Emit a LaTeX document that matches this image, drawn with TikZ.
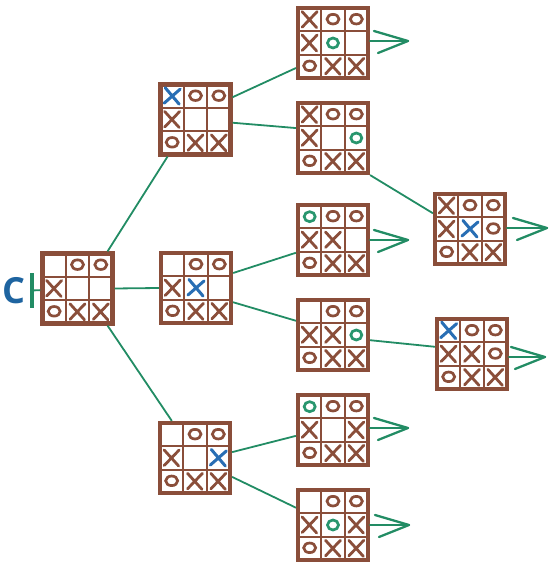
\documentclass[tikz,border=0pt]{standalone}
\usepackage{fontspec}
\newfontfamily\cfont{Open Sans}
\usetikzlibrary{arrows.meta,calc}
\definecolor{brn}{RGB}{138,78,58}
\definecolor{grn}{RGB}{34,140,100}
\definecolor{gro}{RGB}{40,150,110}
\definecolor{blu}{RGB}{40,110,180}
\definecolor{cblu}{RGB}{30,100,160}
\tikzset{
  board/.style={draw=brn, line width=4.2pt, minimum size=70pt, inner sep=0pt, fill=white},
  gridline/.style={draw=brn, line width=2pt},
  conn/.style={draw=grn, line width=1.8pt},
  outarrow/.style={draw=grn, line width=2.3pt, line cap=round, line join=round},
  xm/.pic={\draw[brn, line width=2.8pt, line cap=round] (-7.5,8) -- (7,-8) (7.5,8) -- (-7.5,-7.5);},
  bx/.pic={\draw[blu, line width=3pt, line cap=round] (-7,8.5) -- (7,-8) (8,7) -- (-8,-7);},
  om/.pic={\draw[brn, line width=2.7pt] (0,0.5) ellipse [x radius=6pt, y radius=4.8pt];},
  go/.pic={\draw[gro, line width=2.7pt] (0,0) ellipse [x radius=5.5pt, y radius=5pt];},
  em/.pic={}
}
\newcommand\tttboard[3]{%
  \node[board] (#1) at (#2) {};
  \draw[gridline] ($(#1)+(-11.67,-35)$) -- ($(#1)+(-11.67,35)$);
  \draw[gridline] ($(#1)+(11.67,-35)$) -- ($(#1)+(11.67,35)$);
  \draw[gridline] ($(#1)+(-35,-11.67)$) -- ($(#1)+(35,-11.67)$);
  \draw[gridline] ($(#1)+(-35,11.67)$) -- ($(#1)+(35,11.67)$);
  \foreach \m [count=\i from 0] in {#3}{%
    \pgfmathtruncatemacro\rr{div(\i,3)}%
    \pgfmathtruncatemacro\cc{mod(\i,3)}%
    \pic at ($(#1)+(\cc*23.33-23.33, 23.33-\rr*23.33)$) {\m};
  }%
}
\newcommand\outarr[2]{%
  \draw[outarrow] (#1.east |- #2) -- (#2);
  \draw[outarrow] ($(#2)+(-34,10)$) -- (#2) -- ($(#2)+(-30,-12)$);
}
\begin{document}
\begin{tikzpicture}[x=1pt,y=1pt]
\useasboundingbox (0,0) rectangle (558,568);
\tttboard{root}{77.5,279.5}{em,om,om,xm,em,em,om,xm,xm}
\tttboard{A}{195.5,448.5}{bx,om,om,xm,em,em,om,xm,xm}
\tttboard{B}{196,280}{em,om,om,xm,bx,em,om,xm,xm}
\tttboard{Cb}{195,110}{em,om,om,xm,em,bx,om,xm,xm}
\tttboard{L21}{333,525}{xm,om,om,xm,go,em,om,xm,xm}
\tttboard{L22}{333,430}{xm,om,om,xm,em,go,om,xm,xm}
\tttboard{L23}{333,328}{go,om,om,xm,xm,em,om,xm,xm}
\tttboard{L24}{333,233}{em,om,om,xm,xm,go,om,xm,xm}
\tttboard{L25}{333,138}{go,om,om,xm,em,xm,om,xm,xm}
\tttboard{L26}{333,43}{em,om,om,xm,go,xm,om,xm,xm}
\tttboard{L31}{470,339}{xm,om,om,xm,bx,om,om,xm,xm}
\tttboard{L32}{472,214}{bx,om,om,xm,xm,om,om,xm,xm}
% label C and bar
\node[inner sep=0pt, text=cblu, font=\cfont\bfseries\fontsize{36}{36}\selectfont] (clabel) at (14,277) {C};
\node[fill=grn, minimum width=3.5pt, minimum height=35pt, inner sep=0pt] (bar) at (32,277.5) {};
\draw[conn] (bar) -- (root);
% connectors
\draw[conn] (root.51) -- (A.233);
\draw[conn] (root.east) -- (B.west);
\draw[conn] (root.-51) -- (Cb.122);
\draw[conn] (A.31) -- (L21.214);
\draw[conn] (A.-5) -- (L22.165);
\draw[conn] (B.22) -- (L23.199);
\draw[conn] (B.-21) -- (L24.159);
\draw[conn] (Cb.9) -- (L25.189);
\draw[conn] (Cb.-27) -- (L26.155);
\draw[conn] (L22.south east) -- (L31.157);
\draw[conn] (L24.-8) -- (L32.169);
% outgoing arrows
\coordinate (t21) at (408,527);
\coordinate (t23) at (408,328);
\coordinate (t25) at (408,140);
\coordinate (t26) at (409,43);
\coordinate (t31) at (547,340);
\coordinate (t32) at (545,211);
\outarr{L21}{t21}
\outarr{L23}{t23}
\outarr{L25}{t25}
\outarr{L26}{t26}
\outarr{L31}{t31}
\outarr{L32}{t32}
\end{tikzpicture}
\end{document}
